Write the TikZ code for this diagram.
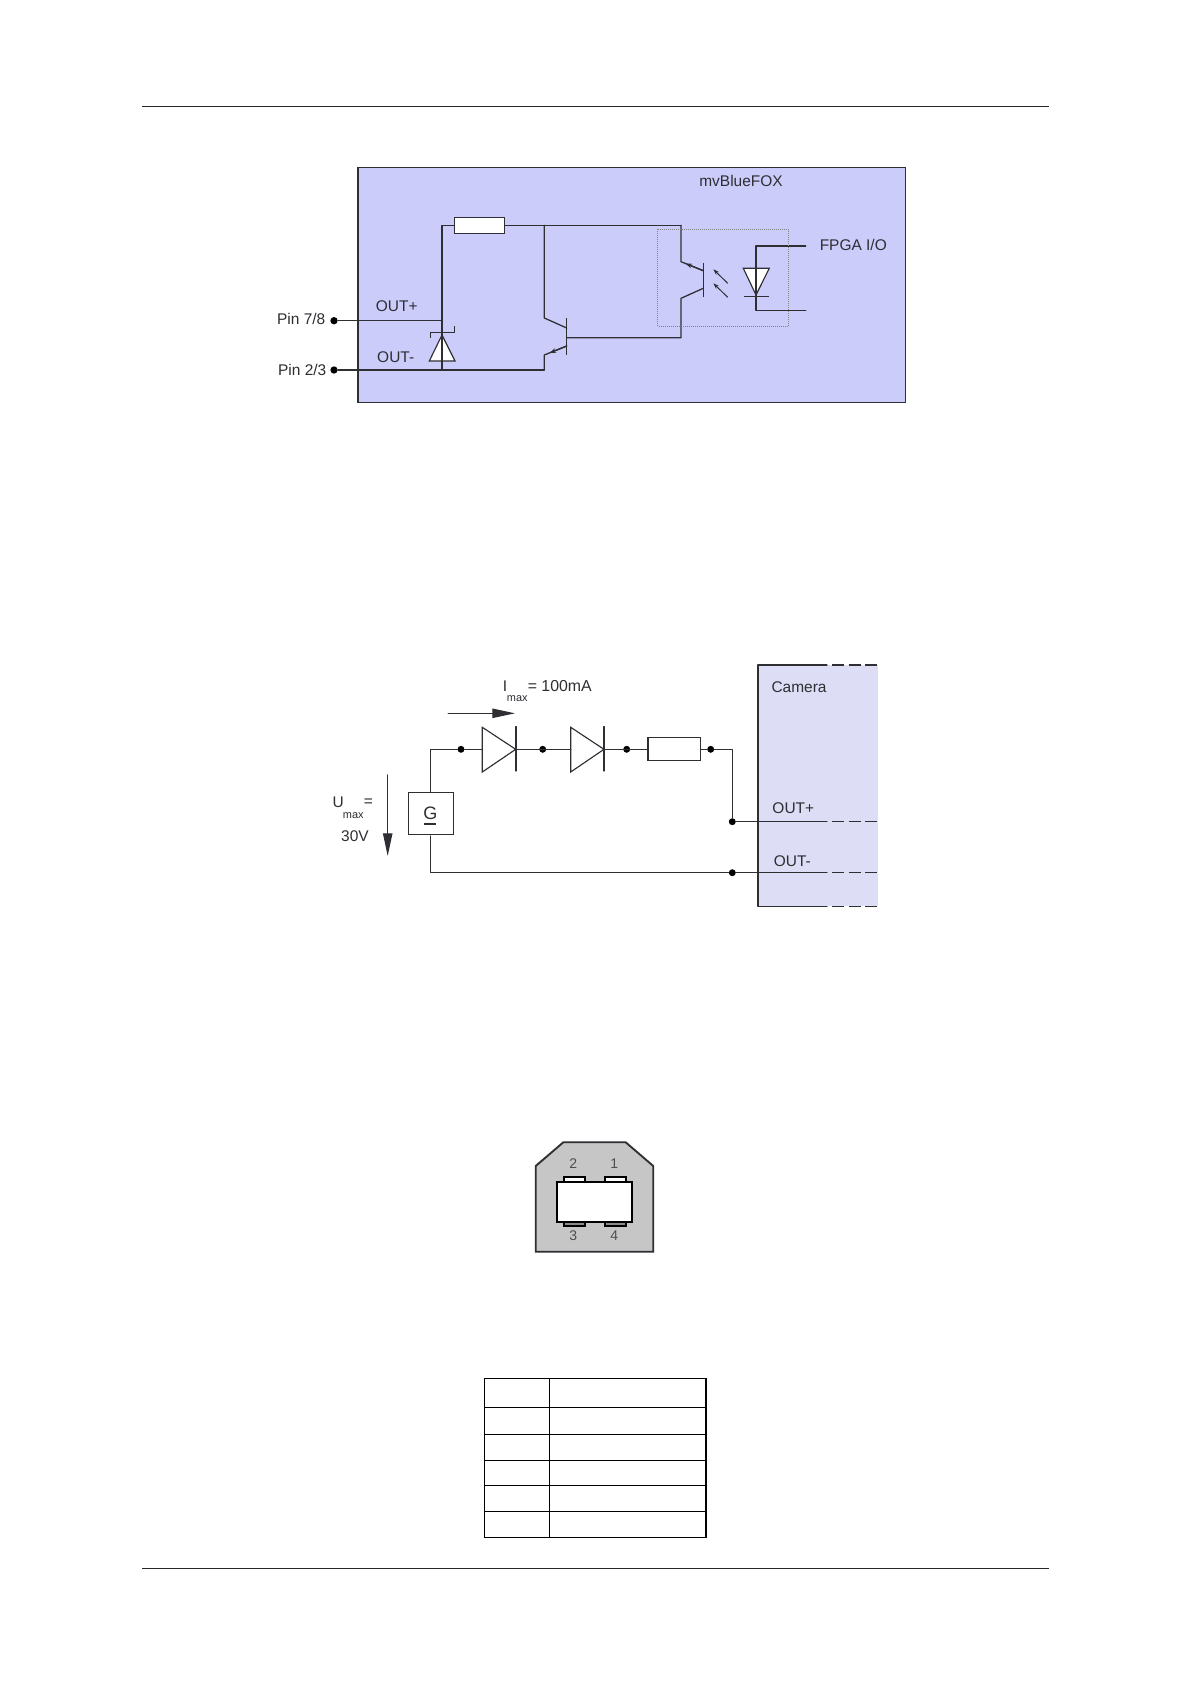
\documentclass[tikz,border=0pt]{standalone}
\usepackage{fontspec}
\setmainfont{Liberation Sans}
\usetikzlibrary{arrows.meta}
\definecolor{ink}{HTML}{2E2E33}
\definecolor{boxblue}{HTML}{CCCCFB}
\definecolor{boxpale}{HTML}{DDDDF5}
\definecolor{usbgray}{HTML}{C6C6C6}
\tikzset{
  wire/.style={draw=ink,line width=0.95pt,line cap=round,line join=round},
  thinwire/.style={draw=ink,line width=0.75pt,line join=round},
  label/.style={inner sep=0pt,text=ink,font=\fontsize{11.6}{13}\selectfont},
  sublabel/.style={inner sep=0pt,text=ink,font=\fontsize{8.2}{9}\selectfont},
  usblabel/.style={inner sep=0pt,text=ink!85,font=\fontsize{10.5}{12}\selectfont},
  junction/.style={circle,fill=black,inner sep=0pt,minimum size=5.2pt},
  resistor/.style={draw=ink,fill=white,line width=0.95pt,inner sep=0pt,rectangle},
  device/.style={draw=ink,fill=white,line width=0.85pt,line join=miter},
  tabl/.style={draw=black,line width=0.85pt},
  pagerule/.style={draw=black!85,line width=0.8pt},
  dashedwire/.style={draw=ink,line width=0.95pt,dash pattern=on 9pt off 3.5pt},
  bigtip/.style={-{Triangle[length=17pt,width=7pt]}},
}
\begin{document}
\begin{tikzpicture}[x=0.75pt,y=-0.75pt]
\useasboundingbox (0,0) rectangle (1191,1684);
\fill[white] (0,0) rectangle (1191,1684);

% page rules
\coordinate (ruleTL) at (142,106.5); \coordinate (ruleTR) at (1048.5,106.5);
\coordinate (ruleBL) at (142,1568.3); \coordinate (ruleBR) at (1048.5,1568.3);
\draw[pagerule] (ruleTL) -- (ruleTR);
\draw[pagerule] (ruleBL) -- (ruleBR);

% ---------- Figure 1 ----------
\filldraw[fill=boxblue,draw=ink,line width=1pt] (358,167.3) rectangle (905.7,402.7);
\node[label] (fox) at (741,181.2) {mvBlueFOX};
\node[label] (fpga) at (853.3,245) {FPGA I/O};
\node[label] (outp) at (396.7,306) {OUT+};
\node[label] (outm) at (395.7,357) {OUT-};
\node[label] (pin78) at (301.2,319.3) {Pin 7/8};
\node[label] (pin23) at (302.2,370) {Pin 2/3};
\node[junction,minimum size=5.5pt] (p1) at (334,320.7) {};
\node[junction,minimum size=5.5pt] (p2) at (334,370) {};

\coordinate (railTop) at (442,225.3);
\coordinate (railOut) at (442,320.7);
\coordinate (railBot) at (442,370);
\node[resistor,minimum width=37.5pt,minimum height=12pt] (r1) at (479.3,225.3) {};
\coordinate (colTop) at (544.3,225.3);
\coordinate (colEnd) at (544.3,318);
\coordinate (colBar) at (566.7,328);
\coordinate (emiBar) at (566.7,346);
\coordinate (emiEnd) at (544.3,355);
\coordinate (emiBot) at (544.3,370);
\coordinate (baseA) at (566.7,337.7);
\coordinate (optoTop) at (681,225.3);
\coordinate (optoC) at (681,261.7);
\coordinate (optoCB) at (703.3,270.7);
\coordinate (optoE) at (681,298.3);
\coordinate (optoEB) at (703.3,288.3);
\coordinate (baseB) at (681,337.7);

\draw[wire] (railBot) -- (railOut) -- (railTop) -- (r1.west);
\draw[wire] (r1.east) -- (colTop) -- (optoTop);
\draw[wire] (p1) -- (railOut);
\draw[wire] (p2) -- (railBot) -- (emiBot);
\draw[wire] (colTop) -- (colEnd) -- (colBar);
\draw[wire] (emiBot) -- (emiEnd) -- (emiBar);
\draw[thinwire] (566.7,318) -- (566.7,355);
\draw[wire] (baseA) -- (baseB) -- (optoE) -- (optoEB);
\draw[wire] (optoTop) -- (optoC) -- (optoCB);
\draw[thinwire] (703.3,263.3) -- (703.3,297.3);
% transistor arrows
\draw[wire,-{Stealth[length=5pt,width=3.5pt]}] (emiBar) -- (549.5,353);
\draw[wire,-{Stealth[length=5pt,width=3.5pt]}] (optoCB) -- (685.5,263.5);
% light arrows
\draw[thinwire,-{Stealth[length=4.5pt,width=3pt]}] (727.7,283.3) -- (713.3,269.3);
\draw[thinwire,-{Stealth[length=4.5pt,width=3pt]}] (727.7,297.3) -- (713.3,283.3);
% LED
\coordinate (ledT) at (756,246);
\coordinate (ledB) at (756,310.7);
\coordinate (ioT) at (805.7,246);
\coordinate (ioB) at (805.7,310.7);
\draw[device] (743.3,268.3) -- (769.3,268.3) -- (756,295) -- cycle;
\draw[wire] (ioT) -- (ledT) -- (ledB) -- (ioB);
\draw[thinwire] (744,296.7) -- (769,296.7);
% opto outline
\draw[draw=ink!60,line width=0.5pt,densely dotted] (657.7,229) rectangle (788.3,326);
% Zener
\draw[device] (442,335) -- (455,361) -- (429.3,361) -- cycle;
\draw[wire] (442,320.7) -- (railBot);
\draw[thinwire] (430,338) -- (430,332.7) -- (454.3,332.7) -- (454.3,325.7);

% ---------- Figure 2 ----------
\fill[boxpale] (758,665) rectangle (878.3,906.3);
\draw[wire] (827,665) -- (758,665) -- (758,906.3) -- (827,906.3);
\draw[dashedwire] (832,665) -- (877,665);
\draw[dashedwire] (832,906.3) -- (877,906.3);
\node[label] (cam) at (799,686.7) {Camera};
\node[label] (coutp) at (793.3,808.3) {OUT+};
\node[label] (coutm) at (792.3,861) {OUT-};

\node[draw=ink,line width=0.85pt,fill=white,minimum width=33.5pt,minimum height=31.3pt,inner sep=0pt] (gen) at (431,813.2) {};
\node[inner sep=0pt,text=ink,font=\fontsize{13.5}{15}\selectfont] (gtext) at (430.3,813) {G};
\draw[draw=ink,line width=0.85pt] (424.3,824) -- (436.3,824);

\node[junction] (d1) at (461,749.3) {};
\node[junction] (d2) at (542.7,749.3) {};
\node[junction] (d3) at (626.7,749.3) {};
\node[junction] (d4) at (710.7,749.3) {};
\node[junction] (d5) at (732.3,821.7) {};
\node[junction] (d6) at (732.3,872.7) {};
\node[resistor,minimum width=39.5pt,minimum height=17.2pt] (r2) at (674.3,749.3) {};

\coordinate (genTop) at (430.3,749.3);
\coordinate (genBot) at (430.3,872.7);
\coordinate (outpEnd) at (827,821.7);
\coordinate (outmEnd) at (827,872.7);

\draw[wire] (gen.north -| genTop) -- (genTop) -- (d1);
\draw[wire] (430.3,836) -- (genBot) -- (d6);
\draw[wire] (d1) -- (482.3,749.3);
\draw[wire] (515.7,749.3) -- (570.7,749.3);
\draw[wire] (604,749.3) -- (r2.west);
\draw[wire] (r2.east) -- (d4) -- (732.3,749.3) -- (d5);
\draw[wire] (d5) -- (outpEnd);
\draw[wire] (d6) -- (outmEnd);
\draw[dashedwire] (832,821.7) -- (877,821.7);
\draw[dashedwire] (832,872.7) -- (877,872.7);
% diodes
\draw[device,fill=none] (482.3,727.3) -- (515.7,749.3) -- (482.3,772) -- cycle;
\draw[wire] (516,726.5) -- (516,771);
\draw[device,fill=none] (570.7,727.3) -- (604,749.3) -- (570.7,772) -- cycle;
\draw[wire] (604,726.5) -- (604,771);
% current label
\node[label] (imaxI) at (505,685.7) {I};
\node[sublabel] (imaxS) at (517.3,698.3) {max};
\node[label,anchor=east,font=\fontsize{11.9}{13}\selectfont] (imaxV) at (592,685.7) {= 100mA};
\coordinate (iA) at (448.3,713.3); \coordinate (iB) at (515,713.3);
\draw[wire,bigtip] (iA) -- (iB);
% voltage label
\node[label] (umaxU) at (338.3,802.7) {U};
\node[sublabel] (umaxS) at (353.3,816) {max};
\node[label] (umaxE) at (368.3,803) {=};
\node[label] (umaxV) at (355,835.7) {30V};
\coordinate (uA) at (387.7,775); \coordinate (uB) at (387.7,856);
\draw[wire,bigtip] (uA) -- (uB);

% ---------- USB connector ----------
\filldraw[fill=usbgray,draw=ink,line width=1.4pt,line join=miter]
  (535.7,1166) -- (563.3,1142.3) -- (625.7,1142.3) -- (653.3,1166) -- (653.3,1251.7) -- (535.7,1251.7) -- cycle;
\filldraw[fill=white,draw=black,line width=0.9pt] (564,1177) rectangle (585,1182);
\filldraw[fill=white,draw=black,line width=0.9pt] (605,1177) rectangle (626,1182);
\filldraw[fill=usbgray!70!black,draw=black,line width=0.9pt] (564,1222) rectangle (585,1226);
\filldraw[fill=usbgray!70!black,draw=black,line width=0.9pt] (605,1222) rectangle (626,1226);
\filldraw[fill=white,draw=black,line width=1.4pt] (557.3,1181.7) rectangle (632.3,1222.3);
\node[usblabel] (u2) at (573.3,1163.7) {2};
\node[usblabel] (u1) at (614.3,1163.7) {1};
\node[usblabel] (u3) at (573.3,1235.7) {3};
\node[usblabel] (u4) at (614.3,1235.7) {4};

% ---------- Table ----------
\draw[tabl] (484.3,1378.7) rectangle (706,1537.3);
\draw[tabl] (549.3,1378.7) -- (549.3,1537.3);
\foreach \yy in {1407.3,1434.3,1460.3,1485.3,1511.3}
  \draw[tabl] (484.3,\yy) -- (706,\yy);
\end{tikzpicture}
\end{document}
